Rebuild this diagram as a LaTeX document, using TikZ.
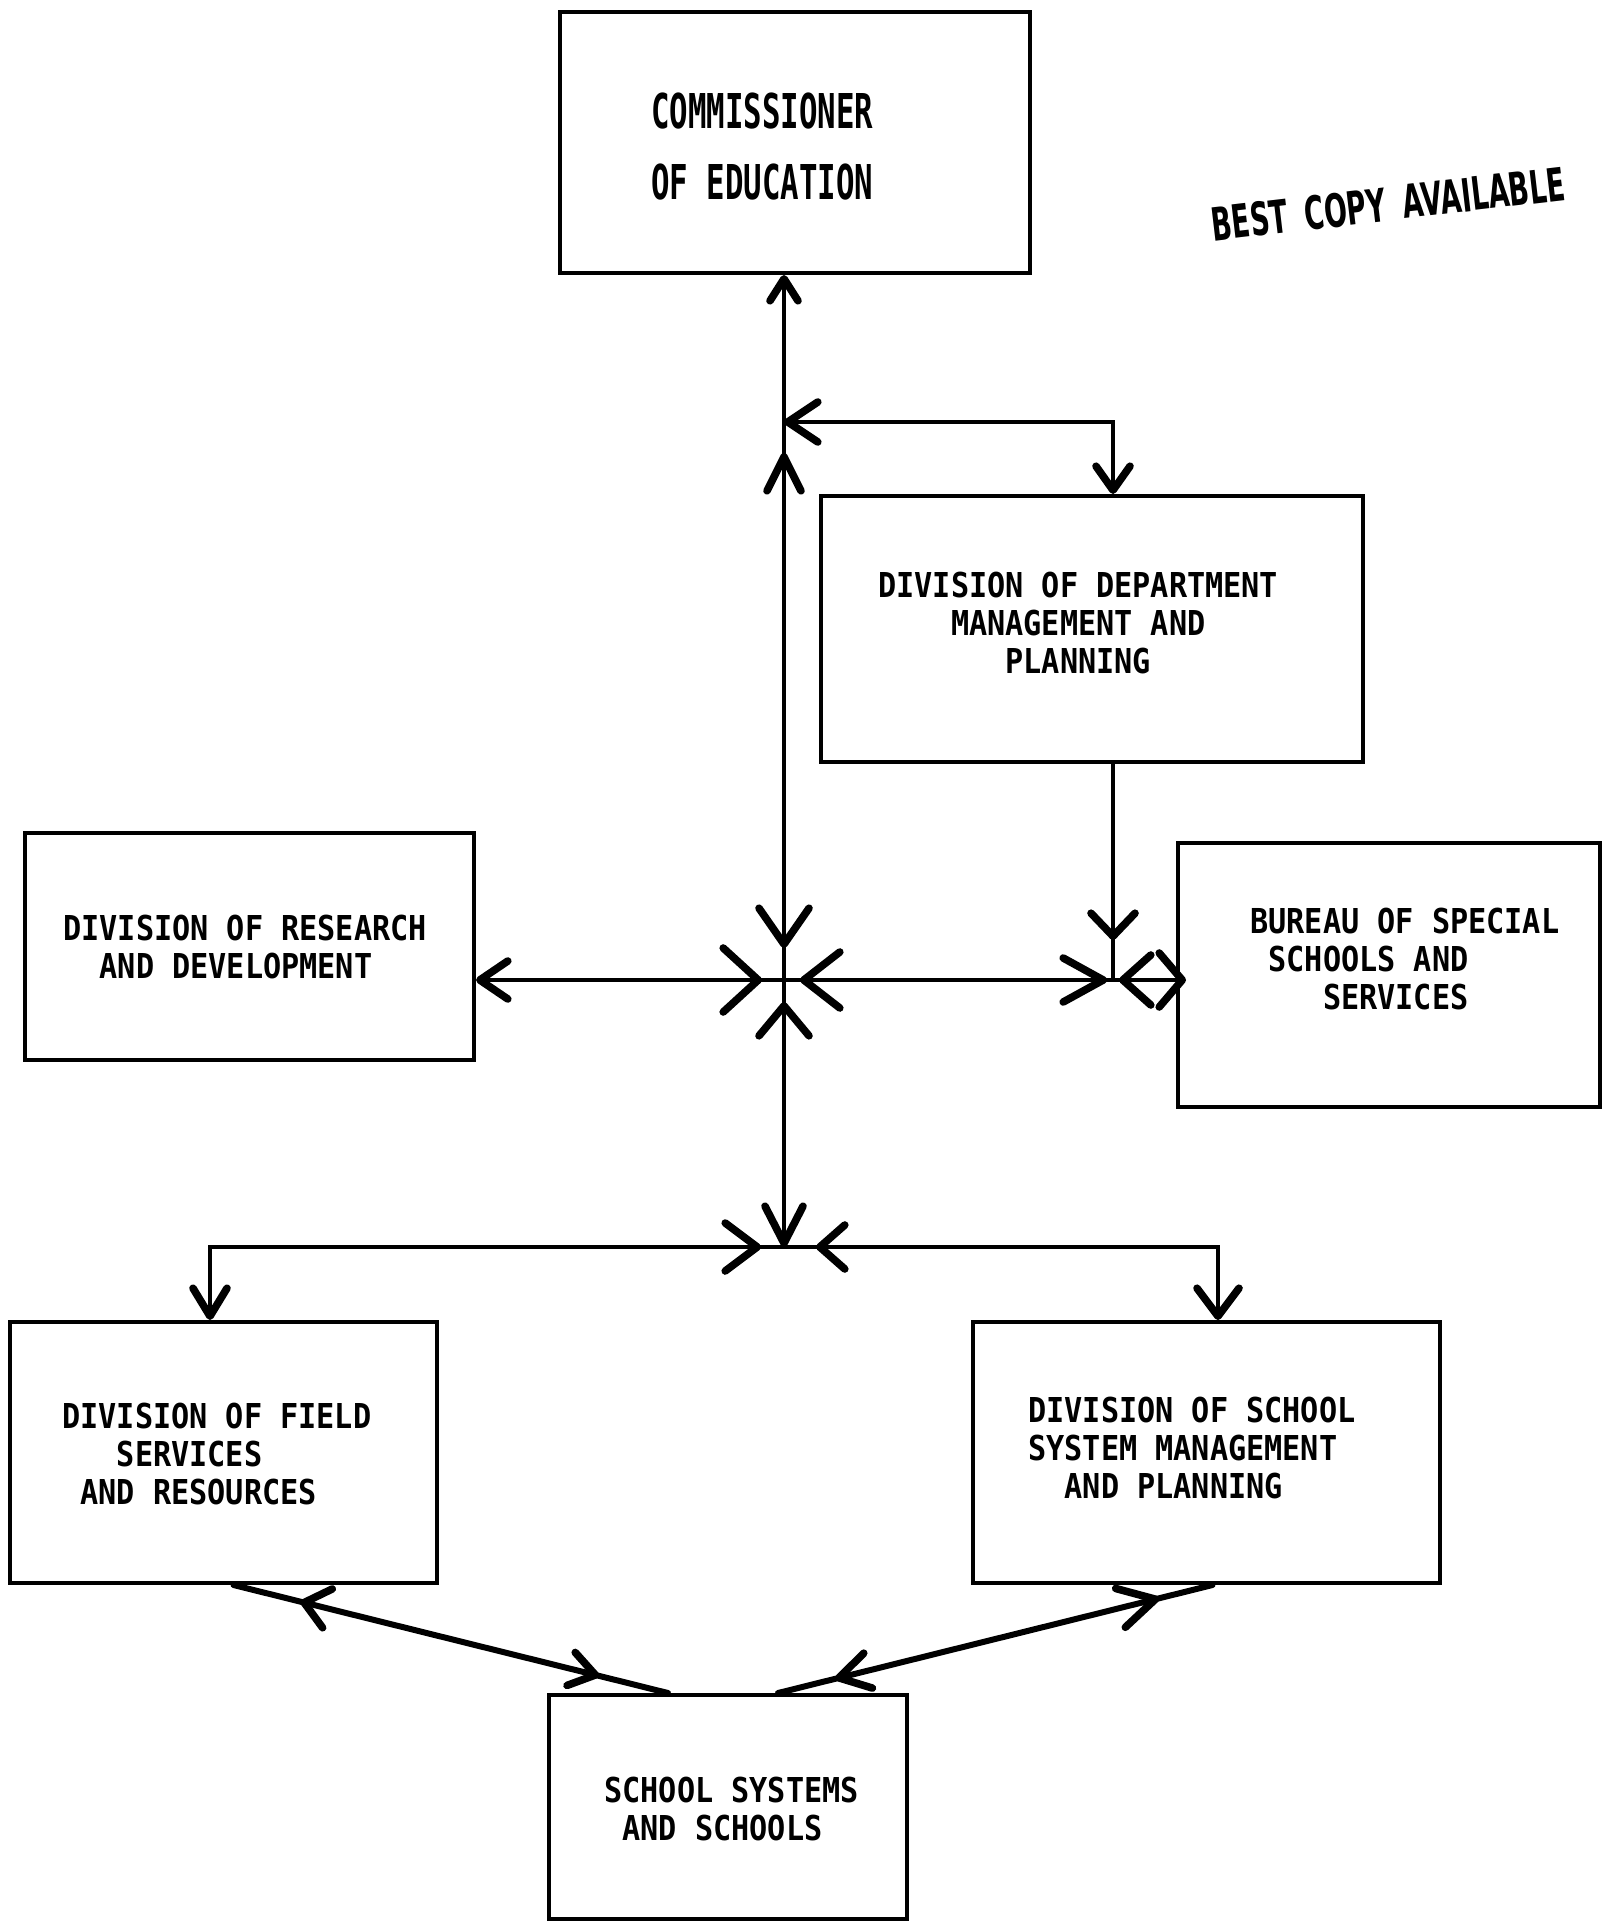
\documentclass[tikz,border=0pt]{standalone}
\usepackage{fontspec}
\usetikzlibrary{arrows.meta,decorations.markings}
\newfontfamily\typefont[FakeStretch=0.88]{DejaVu Sans Mono}
\newfontfamily\commfont[FakeStretch=0.64]{DejaVu Sans Mono}
\newfontfamily\stampfont[FakeStretch=0.585]{DejaVu Sans}
\newcommand{\ind}[1]{\phantom{#1}}
\tikzset{
  box/.style={draw, line width=2pt, inner sep=0pt},
  txt/.style={anchor=north west, inner sep=0pt, align=left, font=\typefont\bfseries\fontsize{17.15pt}{19pt}\selectfont},
  conn/.style={line width=1.6pt},
  hconn/.style={line width=2pt},
  dconn/.style={line width=3pt, line cap=round},
  bb/.tip={Straight Barb[round, line width=3.8pt]},
  mkf/.style 2 args={postaction={decorate,decoration={markings,mark=at position #1 with {\arrow{bb[#2]}}}}},
  mkb/.style 2 args={postaction={decorate,decoration={markings,mark=at position #1 with {\arrowreversed{bb[#2]}}}}},
}
\begin{document}
\begin{tikzpicture}[x=0.5pt,y=-0.5pt]
\useasboundingbox (0,0) rectangle (1604,1921);
\fill[white] (0,0) rectangle (1604,1921);

% boxes
\node[box, minimum width=235pt, minimum height=130.5pt] (comm) at (795,142.5) {};
\node[box, minimum width=271pt, minimum height=133pt] (ddmp) at (1092,629) {};
\node[box, minimum width=224.5pt, minimum height=113.5pt] (res) at (249.5,946.5) {};
\node[box, minimum width=211pt, minimum height=132pt] (bur) at (1389,975) {};
\node[box, minimum width=213.5pt, minimum height=130.5pt] (field) at (223.5,1452.5) {};
\node[box, minimum width=233.5pt, minimum height=130.5pt] (dssmp) at (1206.5,1452.5) {};
\node[box, minimum width=179pt, minimum height=112pt] (school) at (728,1807) {};

% texts
\node[txt, font=\commfont\bfseries\fontsize{24pt}{35.5pt}\selectfont] (commt) at (651,92) {COMMISSIONER\\OF EDUCATION};
\node[txt] (ddmpt) at (878,572) {DIVISION OF DEPARTMENT\\\ind{MMMM}MANAGEMENT AND\\\ind{MMMMMMM}PLANNING};
\node[txt] (rest) at (63,915) {DIVISION OF RESEARCH\\\ind{MM}AND DEVELOPMENT};
\node[txt] (burt) at (1250,908) {BUREAU OF SPECIAL\\\ind{M}SCHOOLS AND\\\ind{MMMM}SERVICES};
\node[txt] (fieldt) at (62,1403) {DIVISION OF FIELD\\\ind{MMM}SERVICES\\\ind{M}AND RESOURCES};
\node[txt] (dssmpt) at (1028,1397) {DIVISION OF SCHOOL\\SYSTEM MANAGEMENT\\\ind{MM}AND PLANNING};
\node[txt] (schoolt) at (604,1777) {SCHOOL SYSTEMS\\\ind{M}AND SCHOOLS};
\node[rotate=6.7, inner sep=0pt, font=\stampfont\bfseries\fontsize{23pt}{23pt}\selectfont] (stamp) at (1388,204) {BEST\ \,COPY\ \,AVAILABLE};

% junctions
\coordinate (J1) at (784,422);
\coordinate (J2) at (784,980);
\coordinate (J3) at (784,1247);
\coordinate (J4) at (1113,980);

% connectors
\draw[conn, -{bb[length=11pt,width=14pt]}] (J1) -- (J1 |- comm.south);
\draw[hconn, {bb[length=15pt,width=20pt]}-{bb[length=12pt,width=17pt]}] (J1) -| ([xshift=10.5pt]ddmp.north);
\draw[conn, mkb={15.5pt}{length=17pt,width=17pt}, mkf={-16pt}{length=18pt,width=25pt}] (J1) -- (J2);
\draw[conn, mkb={11pt}{length=15pt,width=25pt}, -{bb[length=18.5pt,width=19pt]}] (J2) -- (J3);
\draw[hconn, mkb={11pt}{length=17.5pt,width=32pt}, -{bb[length=14pt,width=19pt]}] (J2) -- (J2 -| res.east);
\draw[hconn, mkb={8pt}{length=18pt,width=28pt}, mkf={-3pt}{length=20pt,width=22pt}] (J2) -- (J4);
\draw[hconn, mkb={3pt}{length=14pt,width=25pt}, -{bb[length=11.5pt,width=27pt]}, shorten >=-5pt] (J4) -- (J4 -| bur.west);
\draw[conn, mkf={-20pt}{length=11.5pt,width=22pt}] ([xshift=10.5pt]ddmp.south) -- (J4);
\draw[hconn, mkb={11.5pt}{length=16pt,width=24pt}, -{bb[length=14pt,width=17pt]}] (J3) -| ([xshift=-6.75pt]field.north);
\draw[hconn, mkb={16pt}{length=12.5pt,width=22pt}, -{bb[length=14pt,width=21pt]}] (J3) -| ([xshift=5.75pt]dssmp.north);
\draw[dconn, mkb={34.5pt}{length=12pt,width=20pt}, mkf={-35.5pt}{length=12.5pt,width=17pt}] ([xshift=5pt]field.south) -- ([xshift=-30pt]school.north);
\draw[dconn, mkb={27.5pt}{length=18pt,width=20pt}, mkf={-29.5pt}{length=15pt,width=18pt}] ([xshift=3pt]dssmp.south) -- ([xshift=25pt]school.north);
\end{tikzpicture}
\end{document}
